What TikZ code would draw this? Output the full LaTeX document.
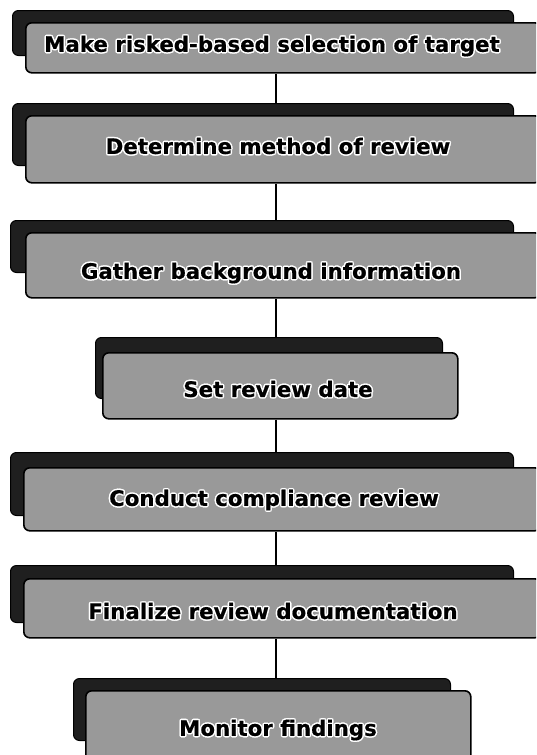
\documentclass[tikz,border=0pt]{standalone}
\usepackage{fontspec}
\setmainfont{DejaVu Sans}
\newfontfamily\stepfont{DejaVu Sans Bold}[FakeBold=0.5]

% white outline behind bold step text, built from shifted copies
\newcommand\halocopy[3]{\makebox[0pt][l]{\hspace*{#1}\raisebox{#2}{\color{white}#3}}}
\newcommand\halotext[1]{%
  \halocopy{1.5pt}{0pt}{#1}\halocopy{-1.5pt}{0pt}{#1}%
  \halocopy{0pt}{1.5pt}{#1}\halocopy{0pt}{-1.5pt}{#1}%
  \halocopy{1.1pt}{1.1pt}{#1}\halocopy{-1.1pt}{1.1pt}{#1}%
  \halocopy{1.1pt}{-1.1pt}{#1}\halocopy{-1.1pt}{-1.1pt}{#1}%
  #1}

\tikzset{
  shadowbox/.style={draw=black, fill=black!88, rounded corners=6pt, line width=1pt,
    inner sep=0pt, anchor=north west},
  frontbox/.style={draw=black, fill=black!40, rounded corners=6pt, line width=1.6pt,
    inner sep=0pt, anchor=north west},
  steptext/.style={font=\fontsize{21.3}{24}\selectfont\stepfont, text=black, inner sep=0pt},
  link/.style={draw=black, line width=1.2pt}
}

\begin{document}
\begin{tikzpicture}[x=1pt, y=-1pt]
\useasboundingbox (0,0) rectangle (536,755);
\begin{scope}
\clip (0,0) rectangle (536,755);
\coordinate (axis) at (276,0);

% step 1
\node[shadowbox, minimum width=501pt, minimum height=45pt] (s1) at (12,10) {};
\node[frontbox, minimum width=515pt, minimum height=50pt] (b1) at (25,22) {};
\node[steptext] (t1) at (272,46) {\halotext{Make risked-based selection of target}};

% step 2
\node[shadowbox, minimum width=501pt, minimum height=62pt] (s2) at (12,103) {};
\node[frontbox, minimum width=515pt, minimum height=67pt] (b2) at (25,115) {};
\node[steptext] (t2) at (278,146) {\halotext{Determine method of review}};

% step 3
\node[shadowbox, minimum width=503pt, minimum height=52pt] (s3) at (10,220) {};
\node[frontbox, minimum width=515pt, minimum height=65pt] (b3) at (25,232) {};
\node[steptext] (t3) at (271,273) {\halotext{Gather background information}};

% step 4
\node[shadowbox, minimum width=347pt, minimum height=61pt] (s4) at (95,337) {};
\node[frontbox, minimum width=355pt, minimum height=66pt] (b4) at (102,352) {};
\node[steptext] (t4) at (278,389) {\halotext{Set review date}};

% step 5
\node[shadowbox, minimum width=503pt, minimum height=63pt] (s5) at (10,452) {};
\node[frontbox, minimum width=517pt, minimum height=63pt] (b5) at (23,467) {};
\node[steptext] (t5) at (274,500) {\halotext{Conduct compliance review}};

% step 6
\node[shadowbox, minimum width=503pt, minimum height=57pt] (s6) at (10,565) {};
\node[frontbox, minimum width=517pt, minimum height=59pt] (b6) at (23,578) {};
\node[steptext] (t6) at (273,611) {\halotext{Finalize review documentation}};

% step 7
\node[shadowbox, minimum width=377pt, minimum height=62pt] (s7) at (73,678) {};
\node[frontbox, minimum width=385pt, minimum height=72pt] (b7) at (85,690) {};
\node[steptext] (t7) at (278,730) {\halotext{Monitor findings}};

% connectors between consecutive steps
\draw[link] (b1.south -| axis) -- (s2.north -| axis);
\draw[link] (b2.south -| axis) -- (s3.north -| axis);
\draw[link] (b3.south -| axis) -- (s4.north -| axis);
\draw[link] (b4.south -| axis) -- (s5.north -| axis);
\draw[link] (b5.south -| axis) -- (s6.north -| axis);
\draw[link] (b6.south -| axis) -- (s7.north -| axis);
\end{scope}
\end{tikzpicture}
\end{document}
